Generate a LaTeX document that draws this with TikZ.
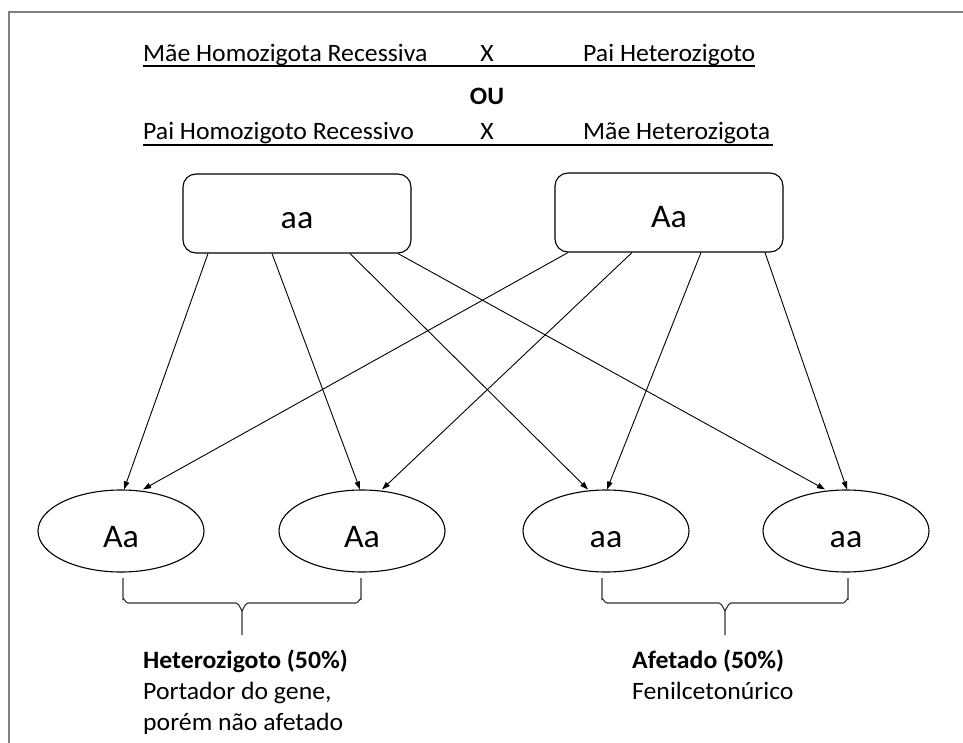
\documentclass[tikz,border=0pt]{standalone}
\usepackage{fontspec}
\setmainfont{Carlito}[FakeStretch=1.03]
\usetikzlibrary{arrows.meta,shapes.geometric,calc}
\definecolor{framegray}{HTML}{7F7F7F}
\begin{document}
\begin{tikzpicture}[x=1pt,y=-1pt,
  txt/.style={inner sep=0pt, font=\fontsize{25}{29}\selectfont},
  btxt/.style={txt, font=\fontsize{25}{29}\selectfont\bfseries},
  parent/.style={draw, line width=1.1pt, rounded corners=13pt, minimum width=228pt, minimum height=79pt, inner sep=0pt, text height=30pt, text depth=0pt, font=\fontsize{33}{36}\selectfont},
  child/.style={draw, ellipse, line width=1.1pt, minimum width=166pt, minimum height=82pt, inner sep=0pt, text height=32pt, text depth=0pt, font=\fontsize{33}{36}\selectfont},
  arr/.style={-{Triangle[length=8pt,width=5.5pt]}, line width=0.9pt},
  uline/.style={line width=1.2pt},
  brace/.style={line width=1.1pt, black!80},
  frame/.style={draw=framegray, line width=2pt}
]
\useasboundingbox (0,0) rectangle (963,743);
\draw[frame] (9,743) -- (9,12) -- (963,12);

% header
\node[txt, anchor=base west] (t1) at (143,62) {Mãe Homozigota Recessiva};
\node[txt, anchor=base] (x1) at (487,62) {X};
\node[txt, anchor=base west] (t2) at (583,62) {Pai Heterozigoto};
\draw[uline] ($(t1.base west)+(0,4)$) -- ($(t2.base east)+(0,4)$);
\node[btxt, anchor=base] (ou) at (487,105) {OU};
\node[txt, anchor=base west] (t3) at (143,140) {Pai Homozigoto Recessivo};
\node[txt, anchor=base] (x2) at (487,140) {X};
\node[txt, anchor=base west] (t4) at (583,140) {Mãe Heterozigota};
\draw[uline] ($(t3.base west)+(0,5)$) -- ($(t4.base east)+(3,5)$);

% parents
\node[parent] (paa) at (297,213.5) {aa};
\node[parent] (pAa) at (669,212.5) {Aa};

% children
\node[child] (e1) at (121,531) {Aa};
\node[child] (e2) at (362,531) {Aa};
\node[child] (e3) at (606,531) {aa};
\node[child] (e4) at (846,531) {aa};

% arrows
\draw[arr] ([xshift=-89pt]paa.south) -- ([xshift=3pt]e1.north);
\draw[arr] ([xshift=-25pt]paa.south) -- ([xshift=-2pt]e2.north);
\draw[arr] ([xshift=53pt]paa.south) -- ([xshift=-18pt]e3.north);
\draw[arr] ([xshift=101pt]paa.south) -- ([xshift=-21pt]e4.north);
\draw[arr] ([xshift=-101pt]pAa.south) -- ([xshift=22pt]e1.north);
\draw[arr] ([xshift=-37pt]pAa.south) -- ([xshift=20pt]e2.north);
\draw[arr] ([xshift=32pt]pAa.south) -- ([xshift=1pt]e3.north);
\draw[arr] ([xshift=96pt]pAa.south) -- ([xshift=1pt]e4.north);

% braces
\draw[brace] (123,578) -- (123,599) to[out=90,in=180] (128,603) -- (236,603) to[out=0,in=-90] (242,610) -- (242,635);
\draw[brace] (361,578) -- (361,599) to[out=90,in=0] (356,603) -- (248,603) to[out=180,in=-90] (242,610);
\draw[brace] (602,578) -- (602,599) to[out=90,in=180] (607,603) -- (719,603) to[out=0,in=-90] (725,610) -- (725,635);
\draw[brace] (848,578) -- (848,599) to[out=90,in=0] (843,603) -- (731,603) to[out=180,in=-90] (725,610);

% bottom labels
\node[btxt, anchor=base west] (h1) at (143,668) {Heterozigoto (50\%)};
\node[txt, anchor=base west] (h2) at (143,699) {Portador do gene,};
\node[txt, anchor=base west] (h3) at (143,730) {porém não afetado};
\node[btxt, anchor=base west] (a1) at (632,668) {Afetado (50\%)};
\node[txt, anchor=base west] (a2) at (632,699) {Fenilcetonúrico};
\end{tikzpicture}
\end{document}
